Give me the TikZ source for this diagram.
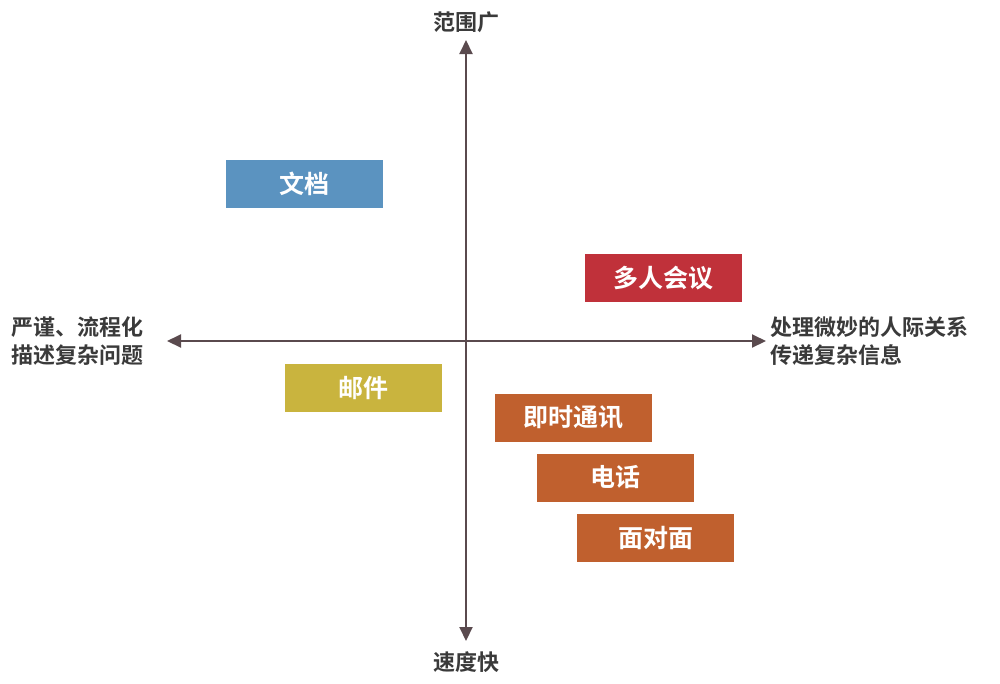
\documentclass[tikz,border=0pt]{standalone}
\usepackage{fontspec}
\setmainfont{Noto Sans CJK SC}[BoldFont={Noto Sans CJK SC Bold}]
\usetikzlibrary{arrows.meta}
\definecolor{axis}{HTML}{5A4A4E}
\definecolor{cblue}{HTML}{5B93C0}
\definecolor{cred}{HTML}{C0313A}
\definecolor{cyel}{HTML}{C9B43E}
\definecolor{corg}{HTML}{C0602E}
\definecolor{txt}{HTML}{3A3A3A}
\begin{document}
\begin{tikzpicture}[x=1pt,y=-1pt,
  box/.style={minimum width=157pt,minimum height=48pt,inner sep=0pt,text=white,font=\fontsize{25}{28}\selectfont\bfseries},
  lab/.style={text=txt,font=\fontsize{22}{28}\selectfont\bfseries,inner sep=0pt},
  ax/.style={draw=axis,line width=2pt,{Triangle[length=14pt,width=13pt]}-{Triangle[length=14pt,width=13pt]}}]
\useasboundingbox (0,0) rectangle (1000,683);
\coordinate (t) at (466,40);
\coordinate (b) at (466,641);
\coordinate (l) at (167,341);
\coordinate (r) at (766,341);
\draw[ax] (t) -- (b);
\draw[ax] (l) -- (r);
\node[lab] (top) at (466,22) {范围广};
\node[lab] (bot) at (466,662) {速度快};
\node[lab,anchor=west,align=left] (left) at (11,341) {严谨、流程化\\描述复杂问题};
\node[lab,anchor=west,align=left] (right) at (770,341) {处理微妙的人际关系\\传递复杂信息};
\node[box,fill=cblue] (doc) at (304.5,184) {文档};
\node[box,fill=cred] (meet) at (663.5,278) {多人会议};
\node[box,fill=cyel] (mail) at (363.5,388) {邮件};
\node[box,fill=corg] (im) at (573.5,417.5) {即时通讯};
\node[box,fill=corg] (tel) at (615,477.5) {电话};
\node[box,fill=corg] (f2f) at (655.5,538) {面对面};
\end{tikzpicture}
\end{document}
